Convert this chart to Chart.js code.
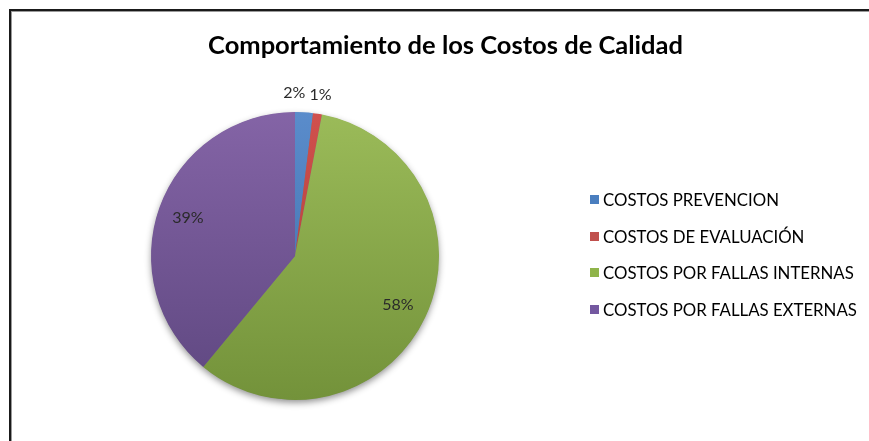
<!DOCTYPE html>
<html>
<head>
<meta charset="utf-8">
<script src="https://cdn.jsdelivr.net/npm/chart.js@4.4.1/dist/chart.umd.min.js"></script>
<style>
  html, body { margin:0; padding:0; background:#fff; width:869px; height:441px; overflow:hidden; }
  #frame { position:absolute; left:9px; top:9px; width:900px; height:500px; border:2px solid #1a1a1a; box-shadow: inset 1px 1px 0 0 #9a9a9a; box-sizing:border-box; }
  #c { position:absolute; left:0; top:0; }
  #title { position:absolute; left:0; width:891px; top:29px; text-align:center; font-family: Lato, "Open Sans", sans-serif; font-weight:bold; font-size:25.5px; color:#000; white-space:nowrap; }
  #legend { position:absolute; left:590px; top:190px; font-family: Lato, "Open Sans", sans-serif; font-size:16.8px; color:#000; }
  .li { position:absolute; left:0; height:20px; line-height:20px; white-space:nowrap; }
  .sw { position:absolute; left:0; top:5px; width:9px; height:9px; }
  .tx { position:absolute; left:13px; top:0; }
</style>
</head>
<body>
<div id="frame"></div>
<canvas id="c" width="869" height="441"></canvas>
<div id="title">Comportamiento de los Costos de Calidad</div>
<div id="legend"></div>
<script>
const categories = ["COSTOS PREVENCION", "COSTOS DE EVALUACIÓN", "COSTOS POR FALLAS INTERNAS", "COSTOS POR FALLAS EXTERNAS"];
const values = [2, 1, 58, 39];
const pctLabels = ["2%", "1%", "58%", "39%"];
const topColors = ["#5a8ccb", "#d0504d", "#9bbb59", "#8464a6"];
const bottomColors = ["#3c6aa6", "#a53a37", "#73923a", "#5e4780"];
const legendColors = ["#4a7ebf", "#c0504d", "#8fb44a", "#7458a0"];
const labelOutside = [true, true, false, false];
const labelAlign = ["right", "center", "center", "center"];

// HTML legend
const legendEl = document.getElementById('legend');
categories.forEach((name, i) => {
  const d = document.createElement('div');
  d.className = 'li';
  d.style.top = (i * 36.7) + 'px';
  d.innerHTML = '<span class="sw" style="background:' + legendColors[i] + '"></span><span class="tx">' + name + '</span>';
  legendEl.appendChild(d);
});

const shadowPlugin = {
  id: 'pieShadow',
  beforeDatasetsDraw(chart) {
    const meta = chart.getDatasetMeta(0);
    const a = meta.data[0];
    if (!a) return;
    const ctx = chart.ctx;
    ctx.save();
    ctx.shadowColor = 'rgba(0,0,0,0.45)';
    ctx.shadowBlur = 7;
    ctx.shadowOffsetX = 0;
    ctx.shadowOffsetY = 3;
    ctx.fillStyle = '#777';
    ctx.beginPath();
    ctx.arc(a.x, a.y, a.outerRadius - 0.5, 0, Math.PI * 2);
    ctx.fill();
    ctx.restore();
  }
};

const labelPlugin = {
  id: 'pctLabels',
  afterDatasetsDraw(chart) {
    const meta = chart.getDatasetMeta(0);
    const ctx = chart.ctx;
    ctx.save();
    ctx.font = '16px Lato, "Open Sans", sans-serif';
    ctx.fillStyle = '#2a2a2a';
    ctx.textBaseline = 'middle';
    meta.data.forEach((arc, i) => {
      const mid = (arc.startAngle + arc.endAngle) / 2;
      const r = labelOutside[i] ? arc.outerRadius + 19 : arc.outerRadius * 0.79;
      const x = arc.x + Math.cos(mid) * r;
      const y = arc.y + Math.sin(mid) * r;
      ctx.textAlign = labelAlign[i];
      ctx.fillText(pctLabels[i], x, y);
    });
    ctx.restore();
  }
};

function grad(ctx, i) {
  const chart = ctx.chart;
  const area = chart.chartArea;
  if (!area) return topColors[i];
  const g = chart.ctx.createLinearGradient(0, area.top, 0, area.bottom);
  g.addColorStop(0, topColors[i]);
  g.addColorStop(1, bottomColors[i]);
  return g;
}

new Chart(document.getElementById('c'), {
  type: 'pie',
  data: {
    labels: categories,
    datasets: [{
      data: values,
      backgroundColor: (ctx) => grad(ctx, ctx.dataIndex),
      borderWidth: 0
    }]
  },
  options: {
    responsive: false,
    animation: false,
    layout: { padding: { left: 151, right: 430, top: 112, bottom: 41 } },
    plugins: {
      legend: { display: false },
      title: { display: false },
      tooltip: { enabled: false }
    }
  },
  plugins: [shadowPlugin, labelPlugin]
});
</script>
</body>
</html>
